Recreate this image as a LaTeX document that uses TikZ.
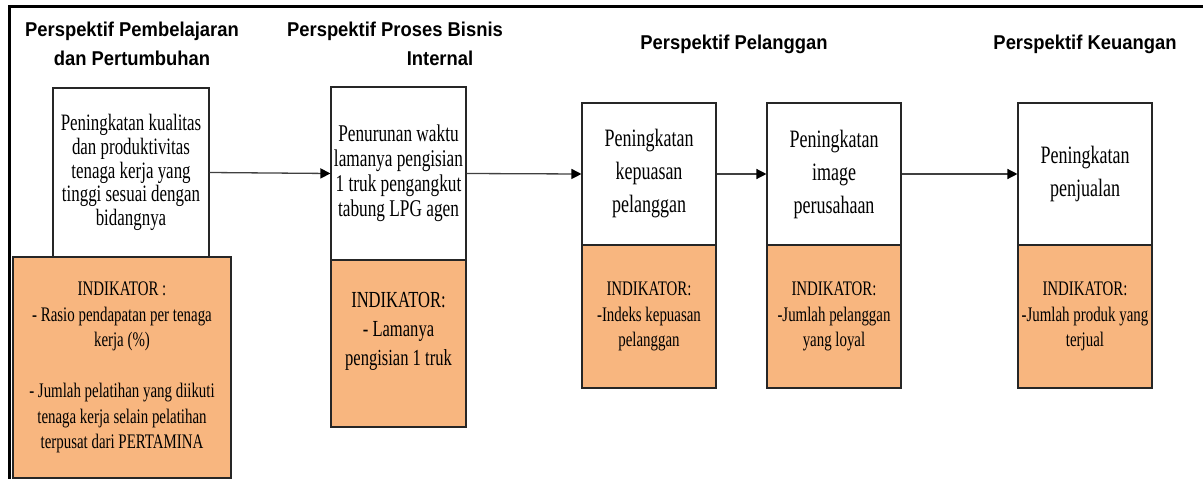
\documentclass[tikz,border=0pt]{standalone}
\usepackage{fontspec}
\setmainfont{Liberation Serif}[FakeStretch=0.72]
\newfontfamily\headfont{Liberation Sans}[FakeStretch=0.92]
\usepackage{tikz}
\usetikzlibrary{arrows.meta}
\definecolor{indikator}{RGB}{248,182,127}
\tikzset{
	persp/.style={font=\headfont\bfseries\fontsize{20}{28.5}\selectfont, align=center, inner sep=0pt},
	goalbox/.style={draw=black!85, line width=1.1pt, fill=white, align=center, inner sep=0pt, minimum width=134pt},
	indbox/.style={goalbox, fill=indikator},
	link/.style={line width=1.3pt, draw=black!75, -{Triangle[length=10pt,width=10pt,color=black]}}
}

\begin{document}
\begin{tikzpicture}[x=1pt, y=-1pt]
		%%%%% START %%%%%
		
		\useasboundingbox (0,0) rectangle (1203,479);
		\draw[line width=2.2pt] (9.5,479) -- (9.5,6.5) -- (1203,6.5);
		
		\node[persp] (h1) at (132,44) {Perspektif Pembelajaran\\dan Pertumbuhan};
		\node[persp] (h2) at (395,44) {Perspektif Proses Bisnis\\\hspace*{90pt}Internal};
		\node[persp] (h3) at (734,44) {Perspektif Pelanggan};
		\node[persp] (h4) at (1085,44) {Perspektif Keuangan};
		
		\node[goalbox, minimum width=156pt, minimum height=169pt, font=\fontsize{23.5}{23.7}\selectfont] (g1) at (131,172.5) {Peningkatan kualitas\\dan produktivitas\\tenaga kerja yang\\tinggi sesuai dengan\\bidangnya};
		\node[indbox, minimum width=218pt, minimum height=221pt, font=\fontsize{20.7}{25.5}\selectfont] (i1) at (122,367.5) {INDIKATOR :\\- Rasio pendapatan per tenaga\\kerja (\%)\\[25.5pt]- Jumlah pelatihan yang diikuti\\tenaga kerja selain pelatihan\\terpusat dari PERTAMINA};
		
		\node[goalbox, minimum width=135pt, minimum height=173pt, font=\fontsize{24}{25}\selectfont] (g2) at (398.5,173.5) {Penurunan waktu\\lamanya pengisian\\1 truk pengangkut\\tabung LPG agen};
		\node[indbox, minimum width=135pt, minimum height=167pt, font=\fontsize{23}{29}\selectfont] (i2) at (398.5,343.5) {INDIKATOR:\\- Lamanya\\pengisian 1 truk\\~};
		
		\node[goalbox, minimum height=142pt, font=\fontsize{25}{33}\selectfont] (g3) at (649,174) {Peningkatan\\kepuasan\\pelanggan};
		\node[indbox, minimum height=143pt, font=\fontsize{20.7}{25.5}\selectfont] (i3) at (649,316.5) {INDIKATOR:\\-Indeks kepuasan\\pelanggan};
		
		\node[goalbox, minimum height=142pt, font=\fontsize{25}{33}\selectfont] (g4) at (834,174) {Peningkatan\\image\\perusahaan};
		\node[indbox, minimum height=143pt, font=\fontsize{20.7}{25.5}\selectfont] (i4) at (834,316.5) {INDIKATOR:\\-Jumlah pelanggan\\yang loyal};
		
		\node[goalbox, minimum height=142pt, font=\fontsize{25}{33}\selectfont] (g5) at (1085,174) {Peningkatan\\penjualan};
		\node[indbox, minimum height=143pt, font=\fontsize{20.7}{25.5}\selectfont] (i5) at (1085,316.5) {INDIKATOR:\\-Jumlah produk yang\\terjual};
		
		\draw[link] (g1.east) -- (g2.west);
		\draw[link] (g2.east) -- (g3.west);
		\draw[link] (g3.east) -- (g4.west);
		\draw[link] (g4.east) -- (g5.west);
		
		%%%%% END %%%%%
\end{tikzpicture}
\end{document}
